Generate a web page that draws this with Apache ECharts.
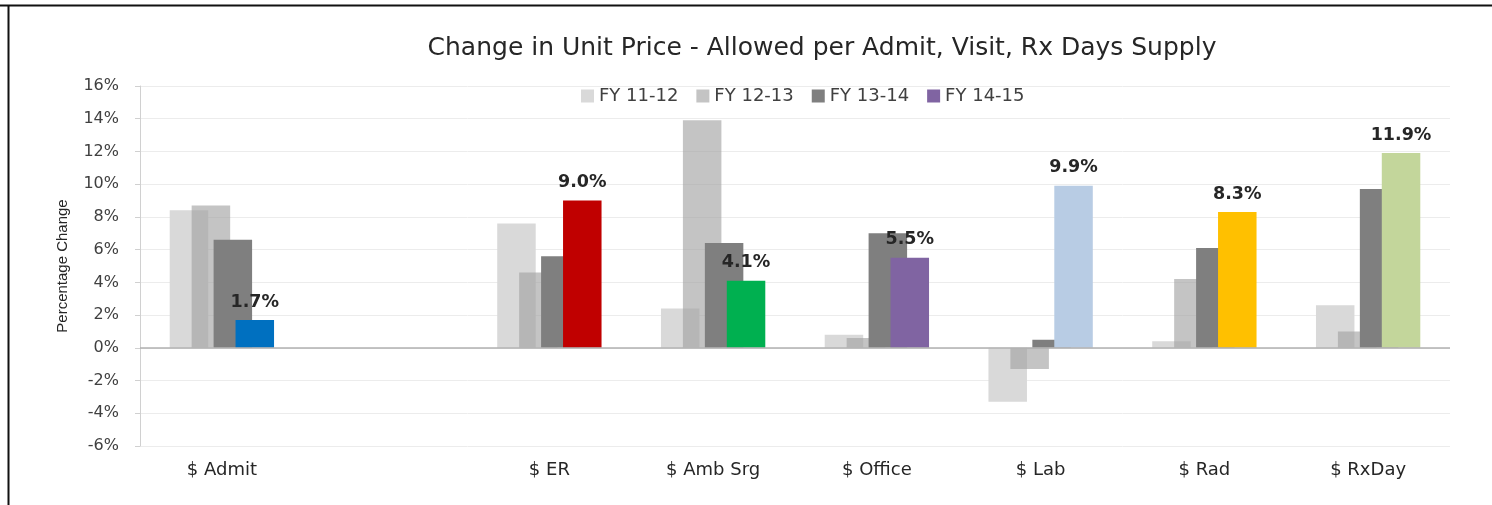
<!DOCTYPE html>
<html><head><meta charset="utf-8">
<script src="https://cdn.jsdelivr.net/npm/echarts@6/dist/echarts.min.js"></script>
<style>html,body{margin:0;padding:0;background:#fff}#c{width:1492px;height:505px}</style>
</head><body><div id="c"></div>
<script>
const categories = ['$ Admit', '', '$ ER', '$ Amb Srg', '$ Office', '$ Lab', '$ Rad', '$ RxDay'];
const seriesNames = ['FY 11-12', 'FY 12-13', 'FY 13-14', 'FY 14-15'];
const fy1112 = [8.4, null, 7.6, 2.4, 0.8, -3.3, 0.4, 2.6];
const fy1213 = [8.7, null, 4.6, 13.9, 0.6, -1.3, 4.2, 1.0];
const fy1314 = [6.6, null, 5.6, 6.4, 7.0, 0.5, 6.1, 9.7];
const fy1415 = [1.7, null, 9.0, 4.1, 5.5, 9.9, 8.3, 11.9];
const fy1415Colors = ['#0070c0', '#ffffff', '#c00000', '#00b050', '#8064a2', '#b8cce4', '#ffc000', '#c3d69b'];
const yTicks = { min: -6, max: 16, step: 2 };

const chart = echarts.init(document.getElementById('c'));
const font = 'DejaVu Sans, sans-serif';
const barW = 38.5;
const gap = '-43%';
chart.setOption({
  animation: false,
  title: {
    text: 'Change in Unit Price - Allowed per Admit, Visit, Rx Days Supply',
    left: 817, top: 31, textAlign: 'center',
    textStyle: { fontFamily: font, fontSize: 25, fontWeight: 'normal', color: '#262626' }
  },
  legend: {
    data: seriesNames, left: 576, top: 82, itemWidth: 13, itemHeight: 13, itemGap: 18,
    textStyle: { fontFamily: font, fontSize: 18, color: '#404040' },
    icon: 'rect'
  },
  graphic: [
    { type: 'line', shape: { x1: 0, y1: 5.5, x2: 1492, y2: 5.5 }, style: { stroke: '#111', lineWidth: 2 } },
    { type: 'line', shape: { x1: 8.5, y1: 5, x2: 8.5, y2: 505 }, style: { stroke: '#111', lineWidth: 2 } }
  ],
  grid: { left: 140, right: 42, top: 86, bottom: 59, containLabel: false },
  xAxis: {
    type: 'category', data: categories,
    axisLine: { show: false }, axisTick: { show: false },
    axisLabel: { fontFamily: font, fontSize: 18, color: '#262626', margin: 15 }
  },
  yAxis: {
    type: 'value', min: yTicks.min, max: yTicks.max, interval: yTicks.step,
    name: 'Percentage Change', nameLocation: 'middle', nameGap: 70, nameRotate: 90,
    nameTextStyle: { fontFamily: 'Liberation Sans Narrow, Liberation Sans, sans-serif', fontSize: 15, color: '#262626' },
    axisLine: { show: true, lineStyle: { color: '#d0d0d0' } },
    axisTick: { show: true, inside: false, length: 5, lineStyle: { color: '#d0d0d0' } },
    axisLabel: { formatter: '{value}%', fontFamily: font, fontSize: 16, color: '#404040', margin: 21 },
    splitLine: { lineStyle: { color: '#ececec', width: 1 } }
  },
  series: [
    { name: seriesNames[0], type: 'bar', data: fy1112, barWidth: barW, barGap: gap,
      itemStyle: { color: '#d9d9d9' },
      markLine: { silent: true, symbol: 'none', label: { show: false },
        lineStyle: { color: '#b0b0b0', type: 'solid', width: 1.5 }, data: [{ yAxis: 0 }] } },
    { name: seriesNames[1], type: 'bar', data: fy1213, barWidth: barW, barGap: gap,
      itemStyle: { color: 'rgba(161,161,161,0.63)' } },
    { name: seriesNames[2], type: 'bar', data: fy1314, barWidth: barW, barGap: gap,
      itemStyle: { color: '#7f7f7f' } },
    { name: seriesNames[3], type: 'bar', data: fy1415.map((v, i) => ({ value: v, itemStyle: { color: fy1415Colors[i] } })),
      barWidth: barW, barGap: gap, itemStyle: { color: '#8064a2' },
      label: { show: true, position: 'top', distance: 9, formatter: p => p.value == null ? '' : p.value.toFixed(1) + '%',
        fontFamily: font, fontWeight: 'bold', fontSize: 17.5, color: '#262626' } }
  ]
});
</script></body></html>
